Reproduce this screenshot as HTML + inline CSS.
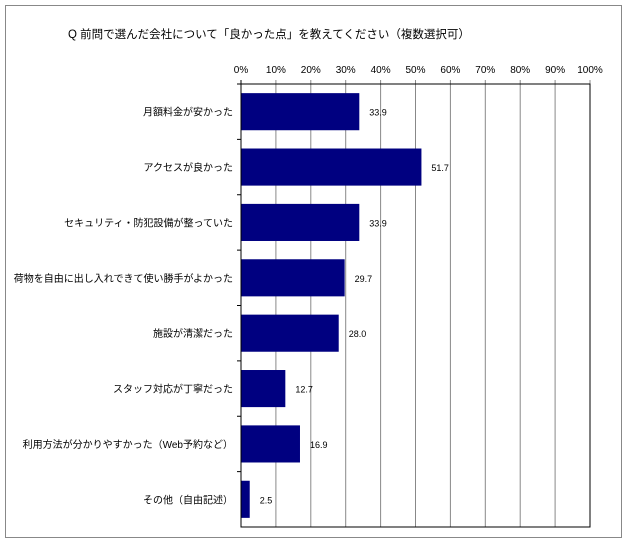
<!DOCTYPE html>
<html><head><meta charset="utf-8"><style>
body{margin:0;background:#fff;}
text{font-family:"Liberation Sans","Noto Sans CJK JP",sans-serif;}
</style></head><body>
<svg id="chart" width="626" height="544" xmlns="http://www.w3.org/2000/svg">
<rect x="5.5" y="5.5" width="616" height="532" fill="#fff" stroke="#888"/>
<text x="68" y="38" font-size="11.5" fill="#000">Q 前問で選んだ会社について「良かった点」を教えてください（複数選択可）</text>
<g id="plot"></g>
</svg>
<script>
const categories=["月額料金が安かった","アクセスが良かった","セキュリティ・防犯設備が整っていた","荷物を自由に出し入れできて使い勝手がよかった","施設が清潔だった","スタッフ対応が丁寧だった","利用方法が分かりやすかった（Web予約など）","その他（自由記述）"];
const values=[33.9,51.7,33.9,29.7,28.0,12.7,16.9,2.5];
const valueLabels=["33.9","51.7","33.9","29.7","28.0","12.7","16.9","2.5"];
const ticks=[0,10,20,30,40,50,60,70,80,90,100];
const tickLabels=["0%","10%","20%","30%","40%","50%","60%","70%","80%","90%","100%"];
const X0=241,X1=590,Y0=84,Y1=527;
const ns="http://www.w3.org/2000/svg";
const g=document.getElementById('plot');
const x=v=>X0+(X1-X0)*v/100;
const band=(Y1-Y0)/categories.length;
const yc=i=>Y0+band*(i+0.5);
function mk(t,a){const e=document.createElementNS(ns,t);for(const k in a)e.setAttribute(k,a[k]);g.appendChild(e);return e;}
ticks.forEach((t,i)=>{
 const l=mk('line',{x1:x(t),x2:x(t),y1:Y0-4,y2:Y1,stroke:'#888','stroke-width':1});
 
 
 const tx=mk('text',{x:x(t),y:73,'font-size':10,'text-anchor':'middle',fill:'#000'});
 tx.textContent=tickLabels[i];
 
 
});
categories.forEach((c,i)=>{
 const h=band*0.67;
 const r=mk('rect',{x:X0,y:yc(i)-h/2,width:x(values[i])-X0,height:h,fill:'#000080'});
 
 
 const v=mk('text',{x:x(values[i])+10,y:yc(i)+4,'font-size':9,fill:'#000'});
 v.textContent=valueLabels[i];
 
 
 const lb=mk('text',{x:X0-8,y:yc(i)+4,'font-size':10,'text-anchor':'end',fill:'#000'});
 lb.textContent=c;
 
 
 const tk=mk('line',{x1:X0-4,x2:X0,y1:Y0+band*i,y2:Y0+band*i,stroke:'#000'});
 
 
});
const ax=mk('path',{d:`M${X0} ${Y0-4}V${Y1}H${X1}V${Y0}H${X0}`,fill:'none',stroke:'#000','stroke-width':1});


</script>
</body></html>
